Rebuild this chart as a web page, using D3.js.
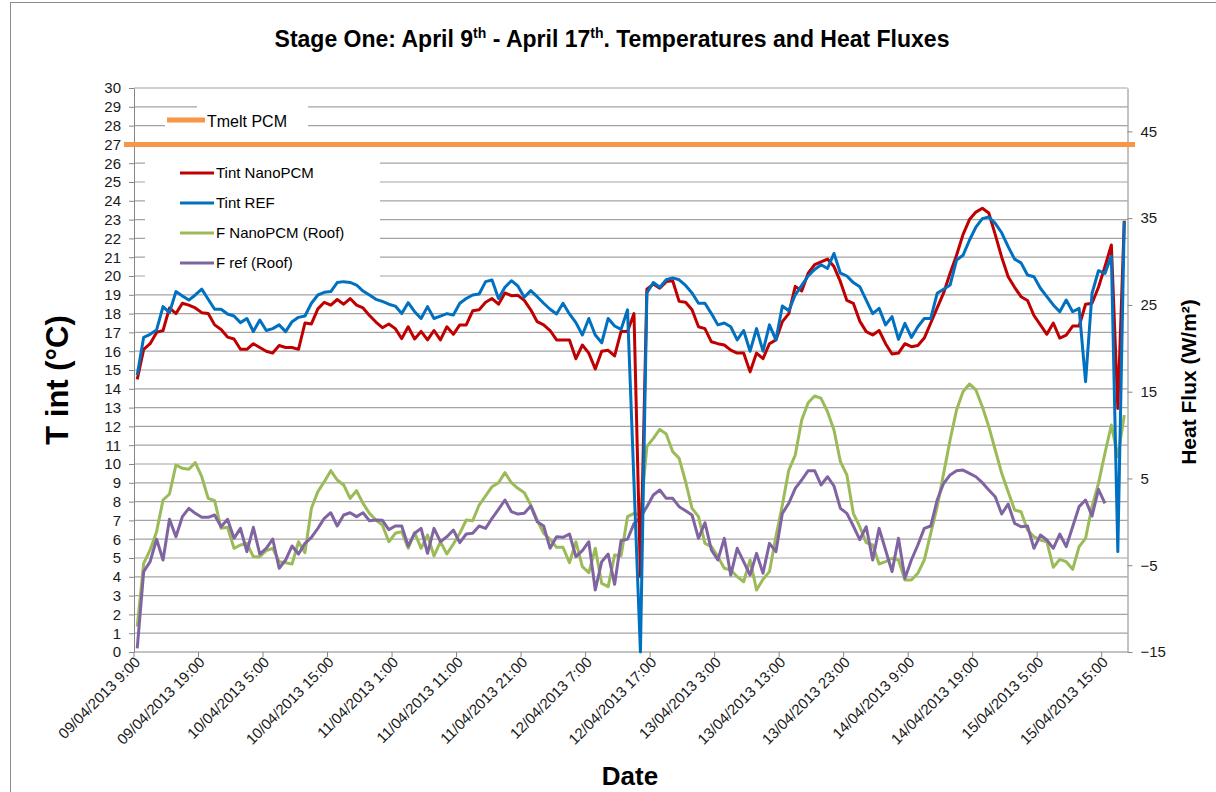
<!DOCTYPE html>
<html>
<head>
<meta charset="utf-8">
<script src="https://cdn.jsdelivr.net/npm/d3@7/dist/d3.min.js"></script>
<style>
  body { margin: 0; background: #fff; }
  text { font-family: "Liberation Sans", Arial, sans-serif; }
</style>
</head>
<body>
<svg id="chart" width="1216" height="792"></svg>
<script>
// hourly readings, first one 09/04/2013 9:00
var tintNano = [14.5, 16.1, 16.4, 17.0, 17.1, 18.3, 18.0, 18.55, 18.45, 18.3,
  18.05, 18.0, 17.4, 17.15, 16.75, 16.65, 16.1, 16.1, 16.4, 16.2,
  16.0, 15.9, 16.3, 16.2, 16.2, 16.1, 17.5, 17.45, 18.25, 18.6,
  18.45, 18.75, 18.5, 18.8, 18.45, 18.3, 17.9, 17.55, 17.25, 17.45,
  17.2, 16.67, 17.3, 16.65, 17.05, 16.6, 17.1, 16.6, 17.3, 16.9,
  17.4, 17.4, 18.15, 18.2, 18.6, 18.8, 18.5, 19.1, 18.95, 18.97,
  18.7, 18.2, 17.57, 17.4, 17.1, 16.6, 16.6, 16.6, 15.6, 16.33,
  15.9, 15.05, 16.0, 16.05, 15.75, 17.05, 17.05, 18.0, 4.0, 19.3,
  19.57, 19.35, 19.7, 19.75, 18.65, 18.6, 18.2, 17.3, 17.2, 16.5,
  16.4, 16.33, 16.06, 15.9, 15.9, 14.9, 15.9, 15.6, 16.4, 16.6,
  17.57, 18.0, 19.45, 19.2, 20.15, 20.6, 20.75, 20.9, 20.5, 19.7,
  18.7, 18.55, 17.6, 17.04, 16.86, 17.1, 16.4, 15.85, 15.9, 16.4,
  16.24, 16.3, 16.7, 17.5, 18.3, 19.1, 20.15, 21.1, 22.2, 23.0,
  23.4, 23.6, 23.35, 22.2, 21.0, 19.96, 19.4, 18.9, 18.7, 17.9,
  17.4, 16.9, 17.5, 16.7, 16.86, 17.34, 17.34, 18.5, 18.55, 19.4,
  20.5, 21.65, 12.95, 22.94];

var tintRef = [14.73, 16.74, 16.9, 17.13, 18.37, 18.05, 19.17, 18.94, 18.72, 18.99,
  19.3, 18.76, 18.23, 18.23, 17.98, 17.87, 17.52, 17.74, 17.05, 17.66,
  17.1, 17.2, 17.4, 17.04, 17.57, 17.8, 17.87, 18.55, 18.99, 19.13,
  19.17, 19.65, 19.7, 19.66, 19.52, 19.2, 18.99, 18.76, 18.65, 18.5,
  18.4, 18.0, 18.58, 18.1, 17.74, 18.37, 17.74, 17.87, 18.0, 17.93,
  18.55, 18.8, 18.99, 19.04, 19.7, 19.79, 18.8, 19.4, 19.75, 19.47,
  18.87, 19.22, 18.9, 18.55, 18.23, 17.98, 18.55, 17.98, 17.52, 16.86,
  17.74, 16.86, 16.45, 17.74, 17.34, 17.16, 18.2, 9.0, 0.0, 19.1,
  19.65, 19.4, 19.8, 19.9, 19.8, 19.5, 19.1, 18.55, 18.55, 18.0,
  17.4, 17.5, 17.3, 16.6, 17.1, 16.0, 17.2, 16.0, 17.4, 16.6,
  18.4, 18.15, 19.0, 19.5, 20.0, 20.35, 20.6, 20.4, 21.2, 20.15,
  20.0, 19.65, 19.43, 18.72, 18.0, 18.28, 17.4, 17.84, 16.63, 17.48,
  16.73, 17.3, 17.74, 17.74, 19.08, 19.3, 19.52, 20.85, 21.1, 21.9,
  22.6, 23.05, 23.14, 22.8, 22.3, 21.56, 20.9, 20.7, 20.05, 19.96,
  19.35, 18.9, 18.46, 18.1, 18.72, 18.1, 18.28, 14.38, 19.08, 20.28,
  20.14, 21.06, 5.34, 22.9];

var fluxNano = [-12.08, -4.78, -3.24, -1.13, 2.52, 3.21, 6.55, 6.17, 6.06, 6.82,
  5.2, 2.71, 2.44, -0.75, -0.63, -3.05, -2.67, -2.48, -4.01, -4.01,
  -3.32, -3.05, -4.59, -4.71, -4.86, -2.29, -3.55, 1.56, 3.48, 4.63,
  5.9, 4.82, 4.25, 2.71, 3.59, 2.13, 0.98, 0.21, -0.36, -2.29,
  -1.32, -1.13, -3.05, -1.25, -3.05, -1.52, -3.94, -2.29, -3.71, -2.55,
  -1.32, 0.21, 0.13, 1.94, 2.98, 4.05, 4.51, 5.67, 4.51, 3.87,
  3.36, 1.94, 0.21, -1.32, -2.01, -2.94, -2.94, -4.71, -2.29, -5.17,
  -5.86, -3.05, -7.1, -7.47, -3.82, -3.9, 0.6, 0.98, 0.79, 8.66,
  9.62, 10.66, 10.12, 8.09, 7.32, 4.63, 1.56, 0.6, -2.48, -2.86,
  -4.01, -5.35, -5.55, -6.32, -6.9, -4.4, -7.85, -6.62, -5.74, -1.71,
  1.94, 5.97, 7.7, 11.74, 13.73, 14.5, 14.24, 12.7, 10.59, 6.93,
  5.4, 0.98, -0.56, -2.4, -2.67, -4.86, -4.59, -4.2, -4.4, -6.7,
  -6.7, -5.93, -4.4, -1.32, 1.75, 5.59, 9.43, 12.89, 15.0, 15.89,
  15.2, 13.27, 10.97, 8.28, 5.59, 3.48, 1.37, 1.17, -0.94, -1.71,
  -2.09, -2.29, -5.24, -4.32, -4.59, -5.47, -2.86, -1.9, 1.75, 4.44,
  7.9, 11.16, 7.5, 12.31];

var fluxRef = [-14.57, -5.74, -4.59, -2.01, -4.4, 0.29, -1.71, 0.6, 1.56, 0.98,
  0.52, 0.52, 0.79, -0.56, 0.29, -1.9, -0.75, -3.44, -0.63, -3.71,
  -3.05, -1.98, -5.35, -4.4, -2.78, -3.71, -2.48, -1.78, -0.75, 0.41,
  1.05, -0.48, 0.79, 1.05, 0.6, 1.05, 0.13, 0.21, 0.17, -0.9,
  -0.48, -0.48, -2.78, -1.32, -0.75, -3.63, -0.75, -2.29, -1.71, -0.94,
  -2.4, -1.4, -1.32, -0.48, -0.75, 0.41, 1.44, 2.52, 1.17, 0.9,
  0.98, 1.83, 0.02, -0.48, -3.05, -1.71, -1.78, -1.4, -4.01, -3.32,
  -2.29, -7.85, -4.59, -3.71, -7.2, -2.15, -2.01, -0.2, 0.5, 1.75,
  3.09, 3.67, 2.71, 2.71, 1.75, 1.29, 0.79, -1.9, -0.1, -3.24,
  -4.4, -1.9, -6.13, -3.05, -4.59, -6.13, -3.63, -5.93, -2.48, -3.44,
  0.98, 2.14, 3.86, 4.82, 5.9, 5.9, 4.25, 5.2, 4.13, 1.56,
  0.98, -0.48, -2.05, -0.56, -4.4, -0.75, -3.24, -5.74, -1.9, -6.51,
  -4.4, -2.67, -0.75, -0.48, 2.52, 4.44, 5.4, 5.9, 5.97, 5.59,
  5.2, 4.51, 3.67, 2.9, 0.9, 2.06, -0.17, -0.56, -0.48, -3.05,
  -1.52, -2.09, -3.05, -1.4, -2.86, -0.56, 1.75, 2.52, 0.67, 3.75,
  2.14];

var tmelt = 27;

// one label every 10 hours
var tickLabels = ["09/04/2013 9:00", "09/04/2013 19:00", "10/04/2013 5:00", "10/04/2013 15:00",
  "11/04/2013 1:00", "11/04/2013 11:00", "11/04/2013 21:00", "12/04/2013 7:00",
  "12/04/2013 17:00", "13/04/2013 3:00", "13/04/2013 13:00", "13/04/2013 23:00",
  "14/04/2013 9:00", "14/04/2013 19:00", "15/04/2013 5:00", "15/04/2013 15:00"];

var seriesNames = ["Tint NanoPCM", "Tint REF", "F NanoPCM (Roof)", "F ref (Roof)"];
var seriesColors = ["#c00000", "#0070c0", "#9bbb59", "#8064a2"];

var width = 1216, height = 792;
var plot = { left: 134, right: 1127.5, top: 88, bottom: 652 };
var svg = d3.select("#chart");

// chart frame
svg.append("rect")
  .attr("x", 10.5).attr("y", 2.5)
  .attr("width", 1300).attr("height", 900)
  .attr("fill", "#fff").attr("stroke", "#8c8c8c");

var x = d3.scaleBand().domain(d3.range(tintNano.length)).range([plot.left, plot.right]);
function cx(i) { return x(i) + x.bandwidth() / 2; }
var yT = d3.scaleLinear().domain([0, 30]).range([plot.bottom, plot.top]);
var yF = d3.scaleLinear().domain([-15, 50]).range([plot.bottom, plot.top]);

// gridlines
svg.append("g").selectAll("line")
  .data(d3.range(1, 31))
  .join("line")
  .attr("x1", plot.left).attr("x2", plot.right)
  .attr("y1", function (d) { return yT(d); })
  .attr("y2", function (d) { return yT(d); })
  .attr("stroke", "#a3a3a3").attr("stroke-width", 1.2);

// legend backgrounds hide the grid
svg.append("rect").attr("x", 197).attr("y", 98).attr("width", 111).attr("height", 38).attr("fill", "#fff");
svg.append("rect").attr("x", 165).attr("y", 112).attr("width", 143).attr("height", 24).attr("fill", "#fff");
svg.append("rect").attr("x", 145).attr("y", 150).attr("width", 235).attr("height", 134).attr("fill", "#fff");

// left axis
var axL = svg.append("g")
  .attr("transform", "translate(" + plot.left + ",0)")
  .call(d3.axisLeft(yT).tickValues(d3.range(0, 31)).tickSize(5).tickSizeOuter(0).tickPadding(8).tickFormat(d3.format("d")));
axL.attr("font-size", 15).attr("font-family", "Liberation Sans, Arial, sans-serif");
axL.select(".domain").attr("stroke", "#868686");
axL.selectAll(".tick line").attr("stroke", "#868686");
axL.selectAll(".tick text").attr("fill", "#1a1a1a");

// right axis
var axR = svg.append("g")
  .attr("transform", "translate(" + plot.right + ",0)")
  .call(d3.axisRight(yF).tickValues([-15, -5, 5, 15, 25, 35, 45]).tickSize(5).tickSizeOuter(0).tickPadding(8));
axR.attr("font-size", 15).attr("font-family", "Liberation Sans, Arial, sans-serif");
axR.select(".domain").attr("stroke", "#868686");
axR.selectAll(".tick line").attr("stroke", "#868686");
axR.selectAll(".tick text").attr("fill", "#1a1a1a");

// bottom axis
var tickIdx = d3.range(0, tintNano.length, 10);
var axB = svg.append("g");
axB.append("line")
  .attr("x1", plot.left).attr("x2", plot.right)
  .attr("y1", plot.bottom).attr("y2", plot.bottom)
  .attr("stroke", "#868686");
axB.selectAll("line.tk")
  .data(tickIdx)
  .join("line").attr("class", "tk")
  .attr("x1", function (d) { return x(d); })
  .attr("x2", function (d) { return x(d); })
  .attr("y1", plot.bottom).attr("y2", plot.bottom + 5)
  .attr("stroke", "#868686");
axB.selectAll("text")
  .data(tickIdx)
  .join("text")
  .attr("transform", function (d) { return "translate(" + (cx(d) + 4) + "," + (plot.bottom + 11) + ") rotate(-45)"; })
  .attr("text-anchor", "end")
  .attr("font-size", 15)
  .attr("fill", "#1a1a1a")
  .text(function (d, i) { return tickLabels[i]; });

// series
var lineT = d3.line().x(function (d, i) { return cx(i); }).y(function (d) { return yT(d); });
var lineF = d3.line().x(function (d, i) { return cx(i); }).y(function (d) { return yF(d); });
var series = [
  { values: tintNano, line: lineT },
  { values: tintRef, line: lineT },
  { values: fluxNano, line: lineF },
  { values: fluxRef, line: lineF }
];
// draw flux lines first, temperatures on top
[2, 3, 0, 1].forEach(function (k) {
  svg.append("path")
    .attr("d", series[k].line(series[k].values))
    .attr("fill", "none")
    .attr("stroke", seriesColors[k])
    .attr("stroke-width", 3)
    .attr("stroke-linejoin", "round");
});

// Tmelt PCM line
svg.append("line")
  .attr("x1", 124).attr("x2", 1135)
  .attr("y1", yT(tmelt)).attr("y2", yT(tmelt))
  .attr("stroke", "#f79646").attr("stroke-width", 5);

// legends
svg.append("line").attr("x1", 167).attr("x2", 205).attr("y1", 120).attr("y2", 120)
  .attr("stroke", "#f79646").attr("stroke-width", 5);
svg.append("text").attr("x", 207).attr("y", 127).attr("font-size", 16).text("Tmelt PCM");

var leg = svg.append("g").selectAll("g")
  .data(seriesNames)
  .join("g")
  .attr("transform", function (d, i) { return "translate(180," + (173 + i * 30) + ")"; });
leg.append("line").attr("x1", 0).attr("x2", 34)
  .attr("stroke", function (d, i) { return seriesColors[i]; })
  .attr("stroke-width", 3);
leg.append("text").attr("x", 36).attr("y", 5).attr("font-size", 15)
  .text(function (d) { return d; });

// titles
var title = svg.append("text")
  .attr("x", 612).attr("y", 47)
  .attr("text-anchor", "middle")
  .attr("font-size", 23).attr("font-weight", "bold");
title.append("tspan").text("Stage One: April 9");
title.append("tspan").attr("font-size", 14).attr("dy", -9).text("th");
title.append("tspan").attr("dy", 9).text(" - April 17");
title.append("tspan").attr("font-size", 14).attr("dy", -9).text("th");
title.append("tspan").attr("dy", 9).text(". Temperatures and Heat Fluxes");

svg.append("text")
  .attr("transform", "translate(68,380) rotate(-90)")
  .attr("text-anchor", "middle")
  .attr("font-size", 31).attr("font-weight", "bold")
  .text("T int (°C)");

svg.append("text")
  .attr("transform", "translate(1196,382) rotate(-90)")
  .attr("text-anchor", "middle")
  .attr("font-size", 21).attr("font-weight", "bold")
  .text("Heat Flux (W/m²)");

svg.append("text")
  .attr("x", 630).attr("y", 785)
  .attr("text-anchor", "middle")
  .attr("font-size", 26).attr("font-weight", "bold")
  .text("Date");
</script>
</body>
</html>
